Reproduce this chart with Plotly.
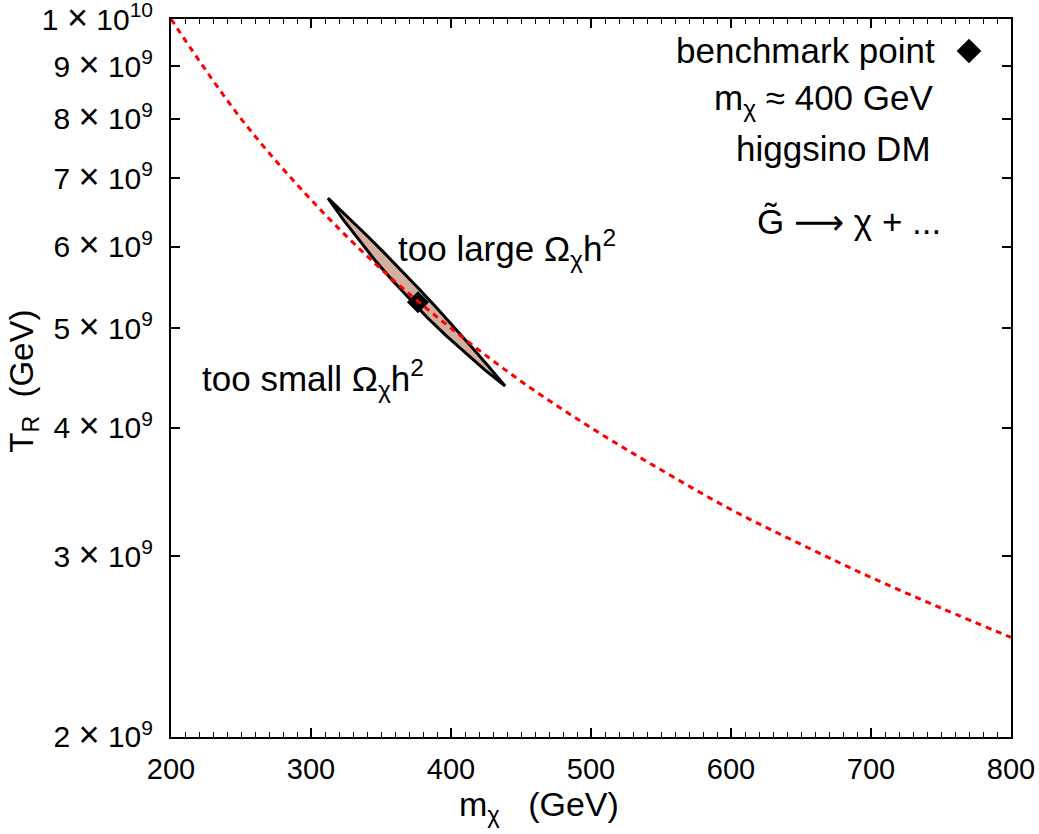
import numpy as np
import plotly.graph_objects as go

# red dashed curve: T_R
curve_m = [200, 250, 300, 350, 400, 450, 500, 550, 600, 650, 700, 750, 800]
curve_T = [1.0e10, 8.0e9, 6.67e9, 5.71e9, 5.0e9, 4.44e9, 4.0e9, 3.64e9, 3.33e9, 3.08e9, 2.86e9, 2.67e9, 2.5e9]

# allowed region outline (m_chi, T_R)
region_m = [312.1, 325.5, 338.8, 351.8, 364.7, 377.4, 390.0, 402.4, 414.6, 426.7, 438.6,
            423.9, 410.0, 396.3, 383.0, 370.2, 357.7, 345.7, 334.1, 322.9, 312.1]
region_T = [6.694e9, 6.432e9, 6.177e9, 5.930e9, 5.689e9, 5.456e9, 5.229e9, 5.010e9, 4.797e9, 4.591e9, 4.392e9,
            4.556e9, 4.731e9, 4.920e9, 5.122e9, 5.340e9, 5.573e9, 5.823e9, 6.093e9, 6.382e9, 6.694e9]

bench_m = [376.4]
bench_T = [5.30e9]

x_ticks = [200, 300, 400, 500, 600, 700, 800]
y_ticks = [2e9, 3e9, 4e9, 5e9, 6e9, 7e9, 8e9, 9e9, 1e10]
y_mant = ["2", "3", "4", "5", "6", "7", "8", "9", "1"]
y_exp = ["9", "9", "9", "9", "9", "9", "9", "9", "10"]

FONT = "Liberation Sans, Arial, sans-serif"
SP = "\u00a0"

y_ticktext = [f"{m}{SP}<span style='font-size:36px'>×</span>{SP}10<sup>{e}</sup>" for m, e in zip(y_mant, y_exp)]

fig = go.Figure()
fig.add_trace(go.Scatter(x=region_m, y=region_T, mode="lines", fill="toself",
                         fillcolor="#d4ae9e", line=dict(color="black", width=3),
                         showlegend=False, hoverinfo="skip"))
fig.add_trace(go.Scatter(x=bench_m, y=bench_T, mode="markers",
                         marker=dict(symbol="diamond", size=17, color="black"),
                         showlegend=False))
fig.add_trace(go.Scatter(x=curve_m, y=curve_T, mode="lines", line_shape="spline",
                         line=dict(color="#ff0000", width=3, dash="6px,5px"),
                         showlegend=False))
# legend-like diamond marker in the top-right
fig.add_trace(go.Scatter(x=[770.0], y=[9.31e9], mode="markers",
                         marker=dict(symbol="diamond", size=19, color="black"),
                         showlegend=False))

def ann(text, x, y, xanchor, size=35):
    fig.add_annotation(text=text, x=x, y=np.log10(y), xref="x", yref="y",
                       xanchor=xanchor, yanchor="middle", showarrow=False,
                       font=dict(family=FONT, size=size, color="black"))

ann("benchmark point", 747.1, 9.31e9, "right")
ann("m<sub>χ</sub> ≈ 400 GeV", 745.7, 8.34e9, "right")
ann("higgsino DM", 744.3, 7.49e9, "right")
ann("G\u0303 <span style='font-family:DejaVu Sans'>⟶</span> χ + ...", 751.4, 6.34e9, "right")
ann("too large Ω<sub>χ</sub>h<sup>2</sup>", 360.7, 5.98e9, "left")
ann("too small Ω<sub>χ</sub>h<sup>2</sup>", 220.7, 4.47e9, "left")

# axis titles
fig.add_annotation(text=f"m<sub>χ</sub>{SP*3}(GeV)", x=0.4375, y=-0.097, xref="paper", yref="paper",
                   xanchor="center", yanchor="middle", showarrow=False,
                   font=dict(family=FONT, size=34, color="black"))
fig.add_annotation(text=f"T<sub>R</sub>{SP*2}(GeV)", x=-0.176, y=0.495, xref="paper", yref="paper",
                   xanchor="center", yanchor="middle", showarrow=False, textangle=-90,
                   font=dict(family=FONT, size=33, color="black"))

axis_common = dict(showline=True, linecolor="black", linewidth=2, mirror="ticks",
                   ticks="inside", tickcolor="black", tickwidth=1.5, ticklen=9,
                   showgrid=False, zeroline=False, ticklabeloverflow="allow", automargin=False)

fig.update_xaxes(range=[200, 800], tickvals=x_ticks, ticktext=[str(v) for v in x_ticks],
                 minor=dict(dtick=10, ticks="inside", ticklen=5, tickcolor="black", tickwidth=1),
                 tickfont=dict(family=FONT, size=29, color="black"),
                 ticklabelstandoff=5, **axis_common)
fig.update_yaxes(type="log", range=[np.log10(2e9) - 1e-4, 10 + 1e-4], tickvals=y_ticks, ticktext=y_ticktext,
                 tickfont=dict(family=FONT, size=30, color="black"),
                 ticklabelstandoff=10, **axis_common)

fig.update_layout(width=1039, height=834, margin=dict(l=171, r=28, t=19, b=97, autoexpand=False),
                  plot_bgcolor="white", paper_bgcolor="white", showlegend=False)

fig.write_html("out.html")
